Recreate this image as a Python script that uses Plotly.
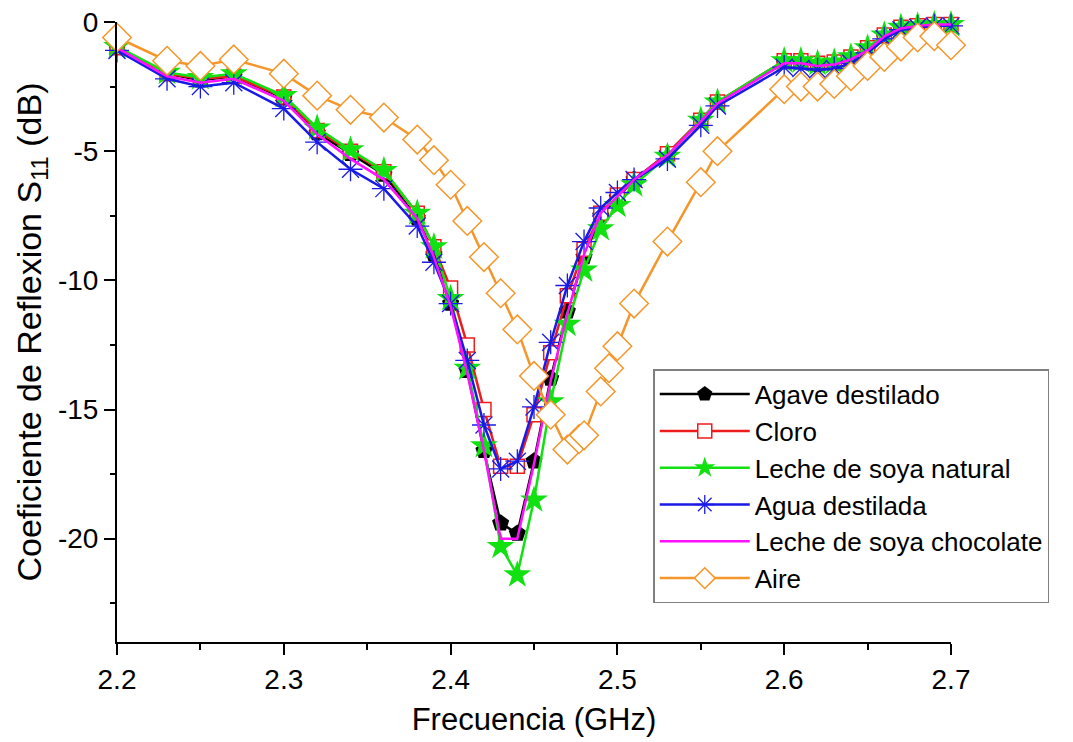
import plotly.graph_objects as go

# ---------------- data ----------------
freq = [2.20, 2.23, 2.25, 2.27, 2.30, 2.32, 2.34, 2.36, 2.38, 2.39, 2.40, 2.41,
        2.42, 2.43, 2.44, 2.45, 2.46, 2.47, 2.48, 2.49, 2.50, 2.51, 2.53, 2.55,
        2.56, 2.60, 2.61, 2.62, 2.63, 2.64, 2.65, 2.66, 2.67, 2.68, 2.69, 2.70]

agave = [-1.0, -2.0, -2.25, -2.1, -2.95, -4.3, -5.1, -5.9, -7.6, -9.0, -10.9, -13.5,
         -16.6, -19.4, -19.8, -17.0, -13.8, -11.2, -9.1, -7.5, -6.8, -6.1, -5.1, -3.8,
         -3.1, -1.55, -1.55, -1.65, -1.6, -1.4, -1.05, -0.55, -0.25, -0.15, -0.1, -0.1]

cloro = [-1.0, -2.0, -2.2, -2.1, -2.9, -4.2, -5.0, -5.8, -7.4, -8.7, -10.3, -12.5,
         -15.0, -17.2, -17.2, -15.2, -12.8, -10.6, -8.8, -7.4, -6.7, -6.1, -5.1, -3.8,
         -3.1, -1.5, -1.5, -1.6, -1.55, -1.35, -1.0, -0.5, -0.2, -0.15, -0.1, -0.1]

soya_natural = [-0.95, -1.95, -2.15, -2.0, -2.85, -4.1, -4.95, -5.75, -7.4, -8.7, -10.7, -13.4,
                -16.4, -20.3, -21.4, -18.5, -14.7, -11.7, -9.6, -8.0, -7.1, -6.3, -5.2, -3.8,
                -3.1, -1.5, -1.5, -1.6, -1.55, -1.35, -1.0, -0.5, -0.2, -0.15, -0.1, -0.1]

agua = [-1.1, -2.2, -2.5, -2.35, -3.35, -4.65, -5.7, -6.45, -7.9, -9.3, -10.9, -13.1,
        -15.6, -17.3, -17.0, -14.9, -12.4, -10.2, -8.5, -7.2, -6.6, -6.1, -5.3, -4.0,
        -3.25, -1.75, -1.8, -1.85, -1.8, -1.6, -1.2, -0.65, -0.3, -0.2, -0.15, -0.15]

soya_choc = [-1.0, -2.1, -2.35, -2.2, -3.05, -4.35, -5.3, -6.1, -7.6, -9.1, -11.0, -13.6,
             -16.6, -20.0, -20.0, -17.1, -13.9, -11.3, -9.0, -7.4, -6.75, -6.1, -5.15, -3.85,
             -3.15, -1.6, -1.6, -1.7, -1.65, -1.45, -1.1, -0.55, -0.25, -0.15, -0.1, -0.1]

freq_aire = [2.20, 2.23, 2.25, 2.27, 2.30, 2.32, 2.34, 2.36, 2.38, 2.39, 2.40, 2.41,
             2.42, 2.43, 2.44, 2.45, 2.46, 2.47, 2.477, 2.48, 2.49, 2.495, 2.50, 2.51,
             2.53, 2.55, 2.56, 2.60, 2.61, 2.62, 2.63, 2.64, 2.65, 2.66, 2.67, 2.68,
             2.69, 2.70]
aire = [-0.6, -1.5, -1.7, -1.45, -2.0, -2.85, -3.4, -3.7, -4.55, -5.35, -6.3, -7.7,
        -9.1, -10.5, -11.9, -13.7, -15.2, -16.55, -16.15, -16.0, -14.3, -13.4, -12.55, -10.9,
        -8.5, -6.2, -5.0, -2.6, -2.5, -2.5, -2.4, -2.1, -1.7, -1.35, -0.95, -0.6,
        -0.55, -0.9]

series_names = ["Agave destilado", "Cloro", "Leche de soya natural",
                "Agua destilada", "Leche de soya chocolate", "Aire"]

x_ticks = [2.2, 2.3, 2.4, 2.5, 2.6, 2.7]
x_ticktext = ["2.2", "2.3", "2.4", "2.5", "2.6", "2.7"]
y_ticks = [0, -5, -10, -15, -20]
y_ticktext = ["0", "-5", "-10", "-15", "-20"]

FONT = "Liberation Sans, Arial, sans-serif"

fig = go.Figure()

fig.add_trace(go.Scatter(
    x=freq, y=agave, name=series_names[0], mode="lines+markers",
    line=dict(color="#000000", width=2.5),
    marker=dict(symbol="pentagon", size=18, color="#000000")))

fig.add_trace(go.Scatter(
    x=freq, y=cloro, name=series_names[1], mode="lines+markers",
    line=dict(color="#ee1c1c", width=2.5),
    marker=dict(symbol="square", size=14, color="white",
                line=dict(color="#ee1c1c", width=1.5))))

fig.add_trace(go.Scatter(
    x=freq, y=soya_natural, name=series_names[2], mode="lines+markers",
    line=dict(color="#11e011", width=2.5),
    marker=dict(symbol="star", size=21, color="#11e011")))

fig.add_trace(go.Scatter(
    x=freq, y=agua, name=series_names[3], mode="lines+markers",
    line=dict(color="#1a1ae6", width=2.5),
    marker=dict(symbol="asterisk-open", size=20,
                line=dict(color="#1a1ae6", width=1.3))))

fig.add_trace(go.Scatter(
    x=freq, y=soya_choc, name=series_names[4], mode="lines",
    line=dict(color="#ff10ff", width=2.5)))

fig.add_trace(go.Scatter(
    x=freq_aire, y=aire, name=series_names[5], mode="lines+markers",
    line=dict(color="#f5962a", width=2.5),
    marker=dict(symbol="diamond", size=22, color="white",
                line=dict(color="#f5962a", width=1.5))))

for tr in fig.data:
    tr.cliponaxis = False

fig.update_layout(
    width=1065, height=734,
    margin=dict(l=109, r=122, t=14, b=100, autoexpand=False),
    paper_bgcolor="white", plot_bgcolor="white",
    font=dict(family=FONT, color="black"),
    showlegend=True,
    legend=dict(
        x=0.643, y=0.44, xanchor="left", yanchor="top",
        bgcolor="white", bordercolor="#808080", borderwidth=1.5,
        font=dict(size=26, family=FONT, color="black"),
        itemwidth=90),
)

fig.update_xaxes(
    range=[2.2, 2.7], showgrid=False, zeroline=False,
    showline=True, linecolor="black", linewidth=2,
    tickmode="array", tickvals=x_ticks, ticktext=x_ticktext,
    ticks="outside", ticklen=11, tickwidth=2, tickcolor="black",
    tickfont=dict(size=28, family=FONT, color="black"),
    ticklabeloverflow="allow",
    minor=dict(dtick=0.05, ticks="outside", ticklen=6, tickwidth=2, tickcolor="black"),
    title=dict(text="Frecuencia (GHz)", font=dict(size=31, family=FONT, color="black"),
               standoff=15),
    automargin=False,
)

fig.update_yaxes(
    range=[-24, 0], showgrid=False, zeroline=False,
    showline=True, linecolor="black", linewidth=2,
    tickmode="array", tickvals=y_ticks, ticktext=y_ticktext,
    ticks="outside", ticklen=11, tickwidth=2, tickcolor="black",
    tickfont=dict(size=28, family=FONT, color="black"),
    ticklabeloverflow="allow",
    minor=dict(tickvals=[-2.5, -7.5, -12.5, -17.5, -22.5], ticks="outside",
               ticklen=5, tickwidth=2, tickcolor="black"),
    title=dict(text="Coeficiente de Reflexion S<sub>11</sub> (dB)",
               font=dict(size=34, family=FONT, color="black"), standoff=6),
    automargin=False,
)

fig.write_html("out.html")
